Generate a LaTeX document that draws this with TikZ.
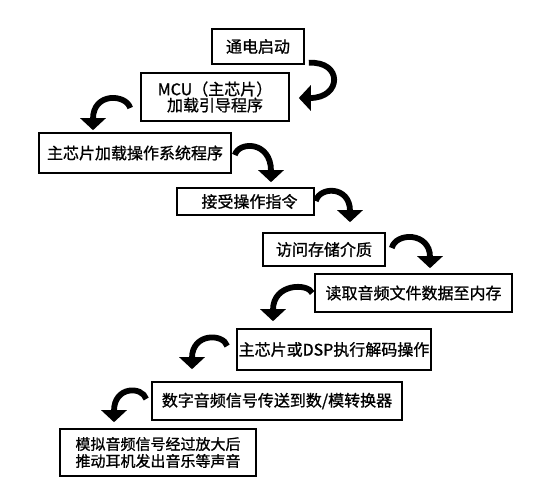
\documentclass[tikz,border=0pt]{standalone}
\usepackage{fontspec}
\newfontfamily\cjk[FakeBold=1]{Noto Sans CJK SC}
\usetikzlibrary{arrows.meta}
\tikzset{
  x=1bp, y=-1bp,
  stepbox/.style={draw=black, line width=1.6bp, inner sep=0pt, align=center,
    font=\cjk\fontsize{16bp}{16bp}\selectfont},
  bigarrow/.style={draw=black, line width=5.8bp,
    -{Triangle[length=12bp, width=25bp]}},
}
\begin{document}
\begin{tikzpicture}
\fill[white] (0,0) rectangle (557,492);
\useasboundingbox (0,0) rectangle (557,492);

\node[stepbox, minimum width=92bp, minimum height=35bp] (b1) at (258,46.5) {通电启动};
\node[stepbox, minimum width=148bp, minimum height=48bp] (b2) at (215,97) {MCU（主芯片）\\加载引导程序};
\node[stepbox, minimum width=192bp, minimum height=40bp] (b3) at (135,153) {主芯片加载操作系统程序};
\node[stepbox, minimum width=137bp, minimum height=27bp] (b4) at (245.5,201.5) {\hspace{8bp}接受操作指令};
\node[stepbox, minimum width=122bp, minimum height=33bp] (b5) at (324,249.5) {访问存储介质};
\node[stepbox, minimum width=197bp, minimum height=38bp] (b6) at (413.5,293) {读取音频文件数据至内存};
\node[stepbox, minimum width=194bp, minimum height=41bp] (b7) at (334,349.5) {主芯片或DSP执行解码操作};
\node[stepbox, minimum width=250bp, minimum height=38bp] (b8) at (277,401) {数字音频信号传送到数/模转换器};
\node[stepbox, minimum width=196bp, minimum height=47bp,
      font=\cjk\fontsize{15bp}{17bp}\selectfont] (b9) at (158,452.5) {模拟音频信号经过放大后\\推动耳机发出音乐等声音};

% connectors
\draw[bigarrow] ([xshift=4bp, yshift=2bp]b1.south east) .. controls +(34,-2) and (342,98) .. ([xshift=9bp, yshift=-1bp]b2.east);
\draw[bigarrow] ([xshift=-10bp, yshift=-11bp]b2.west) .. controls +(-4,-14) and (93,92) .. ([xshift=-42bp, yshift=2bp]b3.north);
\draw[bigarrow] ([xshift=3bp, yshift=-2bp]b3.east) .. controls +(4,-14) and (271,141) .. ([xshift=25.5bp, yshift=5bp]b4.north);
\draw[bigarrow] ([xshift=1bp, yshift=0.5bp]b4.east) .. controls +(4,-15) and (350,186) .. ([xshift=26bp, yshift=10bp]b5.north);
\draw[bigarrow] ([xshift=6bp, yshift=1.5bp]b5.east) .. controls +(4,-16) and (430,232) .. ([xshift=16.5bp, yshift=5bp]b6.north);
\draw[bigarrow] ([xshift=-2bp]b6.west) .. controls +(-4,-10) and (273,283) .. ([xshift=-61bp, yshift=7bp]b7.north);
\draw[bigarrow] ([xshift=-9bp, yshift=3.5bp]b7.west) .. controls +(-4,-13) and (192,333) .. ([xshift=-85bp, yshift=12bp]b8.north);
\draw[bigarrow] ([xshift=-5bp, yshift=2bp]b8.west) .. controls +(-4,-13) and (114,386) .. ([xshift=-44bp, yshift=6bp]b9.north);
\end{tikzpicture}
\end{document}
